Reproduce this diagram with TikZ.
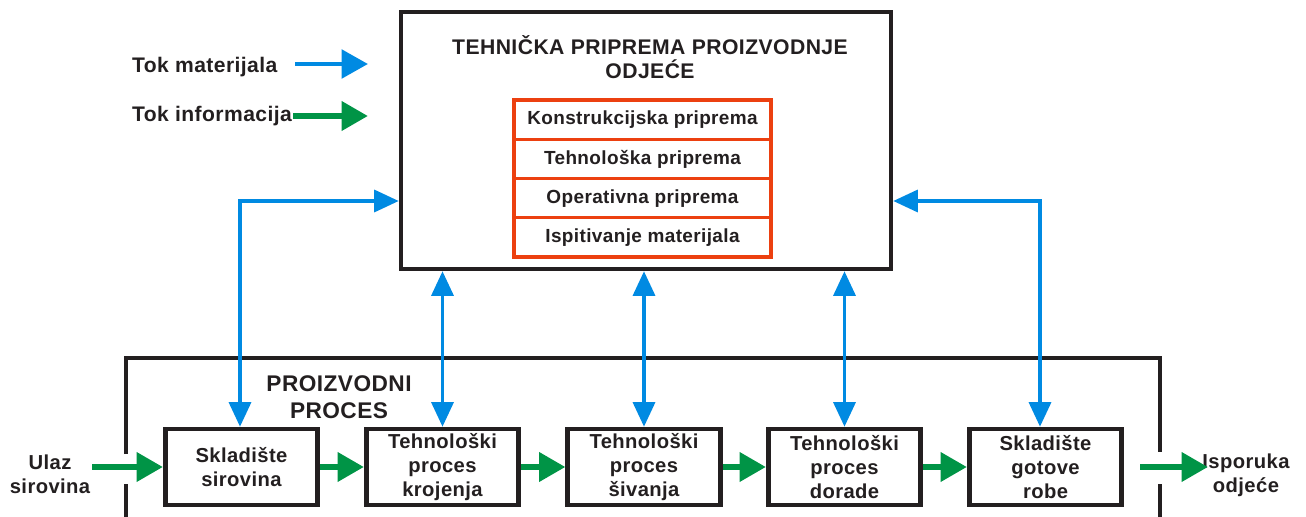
\documentclass[tikz,border=0pt]{standalone}
\usepackage{fontspec}
\setmainfont[LetterSpace=2]{Liberation Sans}
\usetikzlibrary{positioning,calc,arrows,arrows.meta}
\definecolor{tokplava}{RGB}{0,138,226}
\definecolor{tokzelena}{RGB}{0,148,70}
\definecolor{crvena}{RGB}{236,64,16}
\definecolor{tamna}{RGB}{35,31,32}
\tikzset{font=\bfseries\fontsize{11.5}{13.9}\selectfont}

\begin{document}
\begin{tikzpicture}[x=0.02cm, y=-0.02cm]
	\tikzstyle{every node}=[align=center, inner sep=1pt, text=tamna]
	\tikzstyle{glavni}=[draw=tamna, line width=2.6pt]
	\tikzstyle{proc}=[draw=tamna, line width=2.6pt, minimum width=3.05cm, minimum height=1.52cm]
	\tikzstyle{pripr}=[draw=crvena, line width=1.9pt, minimum width=5.14cm, minimum height=0.785cm, font=\bfseries\fontsize{10.8}{13}\selectfont]
	\tikzstyle{mat}=[draw=tokplava, line width=2pt, <->, >={Triangle[length=14pt,width=12.5pt]}]
	\tikzstyle{legmat}=[draw=tokplava, line width=2.8pt, ->, >={Triangle[length=15pt,width=16pt]}]
	\tikzstyle{inf}=[draw=tokzelena, line width=3.6pt, ->, >={Triangle[length=15pt,width=16pt]}]
	\useasboundingbox (0,0) rectangle (1306,517);

	% legenda
	\node[anchor=base west, font=\bfseries\fontsize{12}{14}\selectfont] (tokmat) at (130,73) {Tok materijala};
	\node[anchor=base west, font=\bfseries\fontsize{12}{14}\selectfont] (tokinf) at (130,122) {Tok informacija};
	\coordinate (tm1) at (295,64);
	\coordinate (tm2) at (368,64);
	\coordinate (ti1) at (293,116);
	\coordinate (ti2) at (368,116);
	\draw [legmat] (tm1) -- (tm2);
	\draw [inf] (ti1) -- (ti2);

	% tehnicka priprema
	\node[glavni, minimum width=9.8cm, minimum height=5.14cm] (tpp) at (646,140.5) {};
	\node[font=\bfseries\fontsize{12.05}{13.6}\selectfont] (naslov) at (650,57) {TEHNIČKA PRIPREMA PROIZVODNJE\\ODJEĆE};
	\node[pripr] (konstr) at (642.5,119.6) {Konstrukcijska priprema};
	\node[pripr] (tehn) at (642.5,158.9) {Tehnološka priprema};
	\node[pripr] (oper) at (642.5,198.1) {Operativna priprema};
	\node[pripr] (ispit) at (642.5,237.4) {Ispitivanje materijala};

	% proizvodni proces
	\draw [glavni, line width=2.5pt] (126,517) -- (126,484);
	\draw [glavni, line width=2.5pt] (126,454) -- (126,358) -- (1160,358) -- (1160,452);
	\draw [glavni, line width=2.5pt] (1160,484) -- (1160,517);
	\node[font=\bfseries\fontsize{12.9}{15.3}\selectfont] (pp) at (339,397) {PROIZVODNI\\PROCES};

	\node[proc] (sirov) at (241.5,467) {Skladište\\sirovina};
	\node[proc] (kroj) at (442.5,467) {Tehnološki\\proces\\krojenja};
	\node[proc] (siv) at (644,467) {Tehnološki\\proces\\šivanja};
	\node[proc] (dor) at (844.5,467) {Tehnološki\\proces\\dorade};
	\node[proc] (gotov) at (1045.5,467) {Skladište\\gotove\\robe};

	\node (ulaz) at (50,474) {Ulaz\\sirovina};
	\node (isp) at (1246,475) {Isporuka\\odjeće};

	% tok informacija
	\draw [inf] (sirov.west -| ulaz.east) -- (sirov.west);
	\draw [inf] (sirov) -- (kroj);
	\draw [inf] (kroj) -- (siv);
	\draw [inf] (siv) -- (dor);
	\draw [inf] (dor) -- (gotov);
	\coordinate (izlaz) at (1208,467);
	\draw [inf] ([xshift=0.32cm]gotov.east) -- (izlaz);

	% tok materijala
	\coordinate (lijevo) at (240,201);
	\coordinate (desno) at (1040,201);
	\draw [mat] (tpp.west |- lijevo) -- (lijevo) -- (lijevo |- sirov.north);
	\draw [mat] (tpp.east |- desno) -- (desno) -- (desno |- gotov.north);
	\draw [mat] (tpp.south -| kroj.north) -- (kroj.north);
	\draw [mat] (tpp.south -| siv.north) -- (siv.north);
	\draw [mat] (tpp.south -| dor.north) -- (dor.north);
\end{tikzpicture}
\end{document}
